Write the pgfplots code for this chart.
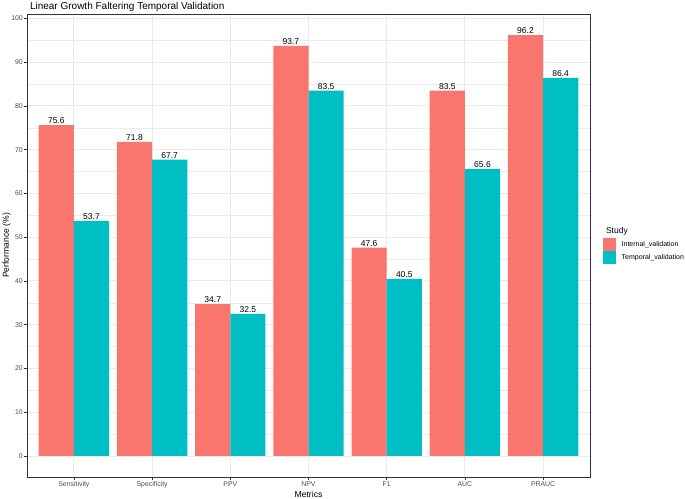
\documentclass[border=0pt]{standalone}
\usepackage{pgfplots}
\pgfplotsset{compat=1.18}
\usepackage{fontspec}
\setmainfont{Liberation Sans}
\definecolor{cred}{HTML}{F8766D}
\definecolor{cteal}{HTML}{00BFC4}
\definecolor{gridc}{HTML}{EBEBEB}
\definecolor{g20}{HTML}{333333}
\definecolor{g30}{HTML}{4D4D4D}
\begin{document}
\begin{tikzpicture}[x=1pt,y=1pt]
\useasboundingbox (0,0) rectangle (685,498);
\begin{axis}[
  at={(27pt,21pt)}, anchor=south west,
  scale only axis, width=563pt, height=463pt,
  xmin=0.4, xmax=7.6, ymin=-4.81, ymax=101.01,
  ybar=0pt, bar width=0.45,
  xtick={1,2,3,4,5,6,7},
  xticklabels={Sensitivity,Specificity,PPV,NPV,F1,AUC,PRAUC},
  ytick={0,10,...,100},
  minor ytick={5,15,...,95},
  xmajorgrids, ymajorgrids, yminorgrids,
  major grid style={gridc, line width=0.9pt},
  minor grid style={gridc, line width=0.45pt},
  axis line style={g20, line width=0.9pt},
  tick align=outside,
  major tick length=3pt, minor tick length=0pt,
  tick style={g20, line width=0.6pt},
  xtick pos=bottom, ytick pos=left,
  /pgf/number format/assume math mode=true,
  ticklabel style={font=\fontsize{6.9}{7}\selectfont, text=g30},
  yticklabel style={inner sep=1pt},
  xticklabel style={inner sep=1.5pt},
  xlabel={Metrics}, ylabel={Performance (\%)},
  label style={font=\fontsize{8.6}{9}\selectfont},
  xlabel style={at={(0.5,0)}, anchor=base, yshift=-20.3pt},
  ylabel style={at={(0,0.5)}, anchor=base, yshift=18pt},
  nodes near coords={\pgfmathprintnumber[fixed,fixed zerofill,precision=1]{\pgfplotspointmeta}},
  every node near coord/.append style={font=\fontsize{8.5}{9}\selectfont, text=black, anchor=south, inner sep=1pt},
  legend style={at={(1.0231,0.516)}, anchor=north west, draw=none, fill=none,
    font=\fontsize{7}{7}\selectfont, row sep=0.5pt, inner sep=0pt,
    nodes={inner sep=0.5pt}},
  legend cell align=left,
  legend image code/.code={\fill[#1] (0pt,-6.25pt) rectangle (12.5pt,6.25pt); \path (18pt,0pt);},
]
\addplot[fill=cred, draw=none] coordinates {
(1,75.6) (2,71.8) (3,34.7) (4,93.7) (5,47.6) (6,83.5) (7,96.2)};
\addlegendentry{Internal\_validation}
\addplot[fill=cteal, draw=none] coordinates {
(1,53.7) (2,67.7) (3,32.5) (4,83.5) (5,40.5) (6,65.6) (7,86.4)};
\addlegendentry{Temporal\_validation}
\end{axis}
\node[anchor=base west, font=\fontsize{10}{11}\selectfont] at (26.5,488.8) {Linear Growth Faltering Temporal Validation};
\node[anchor=base west, font=\fontsize{8.5}{9}\selectfont] at (602.5,264.5) {Study};
\end{tikzpicture}
\end{document}
